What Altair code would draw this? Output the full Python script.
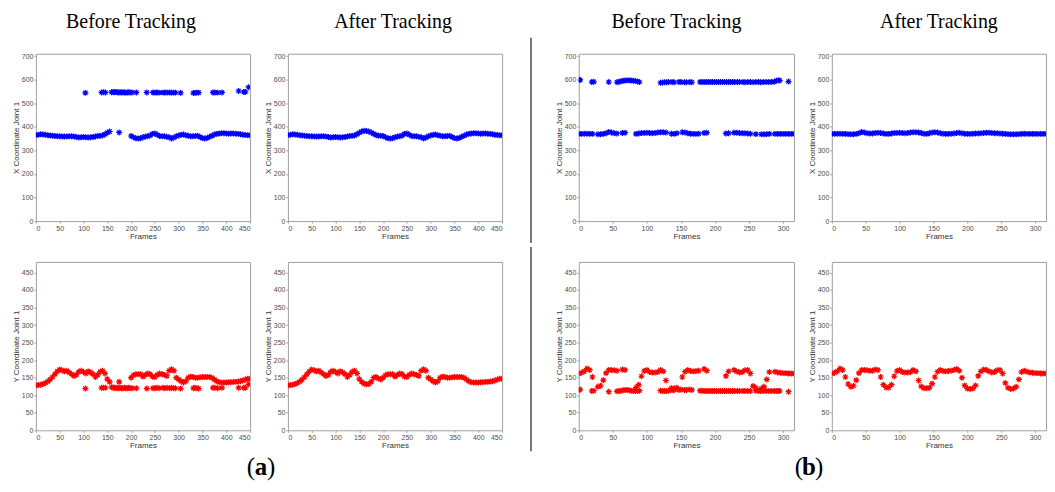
import altair as alt
import pandas as pd

# ---------------- data ----------------
A_FRAMES = list(range(0, 451, 5))
A_X_AFTER = [365, 366, 368, 367, 366, 364, 363, 362, 361, 360,
             360, 359, 359, 359, 360, 360, 359, 357, 355, 356,
             357, 356, 355, 356, 357, 359, 361, 362, 363, 368,
             375, 380, 383, 382, 380, 376, 370, 365, 362, 362,
             361, 356, 351, 350, 351, 356, 359, 360, 363, 370,
             372, 366, 361, 360, 360, 358, 356, 350, 355, 360,
             363, 366, 367, 364, 362, 360, 360, 361, 362, 357,
             352, 350, 353, 358, 362, 367, 370, 372, 373, 373,
             372, 371, 372, 372, 371, 370, 368, 366, 365, 364,
             364]
A_Y_AFTER = [128, 129, 130, 132, 135, 139, 145, 152, 160, 168,
             173, 171, 168, 170, 165, 160, 155, 158, 167, 170,
             166, 162, 168, 165, 160, 152, 158, 167, 170, 162,
             146, 138, 133, 131, 132, 138, 150, 152, 148, 145,
             150, 157, 160, 160, 160, 153, 158, 162, 160, 153,
             152, 158, 162, 160, 158, 155, 170, 174, 170, 150,
             145, 140, 136, 140, 150, 153, 152, 150, 150, 151,
             152, 152, 152, 152, 150, 145, 140, 137, 136, 136,
             136, 137, 137, 138, 138, 139, 140, 142, 145, 147,
             147]
A_MISSING_BEFORE = [160, 165, 170, 180, 185, 190, 195]
A_OUT_FRAMES = [104, 138, 142, 146, 159, 162, 165, 168, 171, 174,
                177, 180, 183, 186, 189, 192, 195, 198, 202, 211,
                233, 246, 250, 254, 259, 267, 271, 276, 281, 285,
                289, 293, 304, 331, 334, 338, 342, 372, 376, 382,
                391, 426, 437, 440, 447]
A_X_OUT = [544, 546, 547, 546, 547, 548, 547, 548, 547, 546,
           547, 546, 547, 546, 545, 546, 547, 546, 546, 546,
           546, 546, 545, 546, 545, 545, 546, 545, 546, 545,
           545, 545, 544, 543, 544, 545, 545, 546, 546, 545,
           546, 552, 548, 548, 568]
A_Y_OUT = [119, 121, 121, 121, 123, 122, 121, 120, 121, 120,
           121, 120, 120, 121, 120, 120, 121, 120, 120, 120,
           119, 120, 120, 121, 120, 121, 120, 121, 120, 121,
           120, 120, 119, 120, 121, 120, 119, 121, 121, 120,
           121, 121, 121, 121, 131]

B_FRAMES = list(range(0, 317, 4))
B_X_AFTER = [370, 370, 371, 371, 370, 370, 369, 368, 368, 370,
             373, 378, 376, 373, 372, 372, 374, 375, 374, 372,
             370, 370, 372, 374, 374, 375, 374, 373, 374, 376,
             377, 377, 376, 374, 371, 370, 373, 376, 377, 376,
             373, 371, 370, 370, 371, 372, 374, 375, 373, 371,
             370, 370, 371, 372, 372, 373, 374, 375, 375, 374,
             373, 373, 372, 371, 370, 369, 368, 368, 368, 369,
             370, 371, 370, 370, 370, 370, 370, 370, 370, 370]
B_Y_AFTER = [162, 164, 168, 176, 172, 152, 132, 124, 127, 143,
             163, 172, 172, 171, 170, 170, 173, 172, 152, 130,
             122, 122, 130, 154, 169, 172, 166, 165, 165, 166,
             172, 168, 142, 125, 120, 120, 121, 133, 152, 167,
             172, 169, 168, 169, 170, 172, 175, 170, 150, 128,
             119, 118, 119, 128, 155, 168, 173, 172, 168, 165,
             166, 171, 172, 162, 135, 121, 118, 119, 124, 145,
             166, 170, 167, 165, 164, 163, 163, 162, 162, 162]
B_MISSING_BEFORE = [24, 60, 72, 76, 80, 132, 148, 180, 192, 196, 200,
                    204, 208, 212, 224, 256, 264, 284]
B_OUT_FRAMES = [0, 2, 19, 22, 44, 56, 59, 62, 65, 68,
                71, 74, 77, 80, 83, 86, 89, 120, 123, 126,
                129, 132, 137, 140, 147, 150, 155, 158, 163, 166,
                178, 181, 184, 187, 190, 193, 196, 199, 202, 205,
                208, 211, 214, 217, 220, 223, 226, 229, 233, 236,
                241, 244, 248, 252, 256, 260, 264, 267, 271, 275,
                279, 283, 287, 290, 293, 295, 308]
B_X_OUT = [600, 599, 590, 591, 590, 589, 591, 593, 595, 596,
           597, 597, 596, 595, 594, 592, 590, 587, 588, 589,
           589, 590, 590, 589, 590, 590, 589, 589, 590, 589,
           590, 590, 590, 590, 590, 590, 590, 590, 590, 590,
           590, 590, 590, 590, 590, 590, 590, 590, 590, 590,
           590, 589, 590, 590, 589, 590, 590, 589, 590, 590,
           590, 590, 591, 595, 597, 596, 592]
B_Y_OUT = [115, 116, 112, 113, 110, 111, 112, 113, 114, 115,
           115, 114, 113, 112, 112, 112, 113, 113, 112, 112,
           112, 113, 114, 115, 115, 116, 115, 115, 116, 115,
           113, 113, 112, 112, 112, 112, 112, 112, 112, 112,
           112, 112, 112, 112, 112, 112, 112, 112, 112, 112,
           112, 112, 112, 112, 126, 113, 112, 112, 112, 112,
           112, 112, 112, 112, 112, 112, 110]

TITLES = ["Before Tracking", "After Tracking"]
X_TICKS_A = list(range(0, 451, 50))
X_TICKS_B = list(range(0, 301, 50))
Y_TICKS_X = list(range(0, 701, 100))
Y_TICKS_Y = list(range(0, 451, 50))

# ---------------- helpers ----------------
STAR = "M-1,0L1,0M0,-1L0,1M-0.7,-0.7L0.7,0.7M-0.7,0.7L0.7,-0.7"
FRAME = "#a0a0a0"


def table(frames, values, missing=None, out_f=None, out_v=None):
    rows = []
    for f, v in zip(frames, values):
        if missing and f in missing:
            continue
        rows.append({"f": f, "v": v})
    if out_f:
        for f, v in zip(out_f, out_v):
            rows.append({"f": f, "v": v})
    return pd.DataFrame(rows)


def panel(df, color, xdom, xticks, ydom, yticks, ytitle, w, h, title=None, dx=0):
    props = dict(width=w, height=h,
                 view=alt.ViewBackground(stroke=FRAME, strokeWidth=1))
    if title:
        props["title"] = alt.TitleParams(
            text=title, font="Liberation Serif", fontSize=20,
            fontWeight="normal", color="#000000", anchor="middle",
            baseline="alphabetic", offset=4, dx=dx)
    return alt.Chart(df).mark_point(
        shape=STAR, filled=False, stroke=color, strokeWidth=1.2,
        size=36, opacity=1, clip=True
    ).encode(
        x=alt.X("f:Q", scale=alt.Scale(domain=xdom, nice=False, zero=False),
                axis=alt.Axis(values=xticks, title="Frames", format="d")),
        y=alt.Y("v:Q", scale=alt.Scale(domain=ydom, nice=False, zero=False),
                axis=alt.Axis(values=yticks, title=ytitle, format="d")),
    ).properties(**props)


BLUE = "#0000ff"
RED = "#ff0000"
W, HT, HB = 215, 168, 169

p1 = panel(table(A_FRAMES, A_X_AFTER, A_MISSING_BEFORE, A_OUT_FRAMES, A_X_OUT),
           BLUE, [0, 450], X_TICKS_A, [0, 710], Y_TICKS_X,
           "X Coordinate Joint 1", W, HT, TITLES[0], dx=-12)
p2 = panel(table(A_FRAMES, A_X_AFTER), BLUE, [0, 450], X_TICKS_A, [0, 710],
           Y_TICKS_X, "X Coordinate Joint 1", W, HT, TITLES[1], dx=-2)
p3 = panel(table(A_FRAMES, A_Y_AFTER, A_MISSING_BEFORE, A_OUT_FRAMES, A_Y_OUT),
           RED, [0, 450], X_TICKS_A, [0, 480], Y_TICKS_Y,
           "Y Coordinate Joint 1", W, HB)
p4 = panel(table(A_FRAMES, A_Y_AFTER), RED, [0, 450], X_TICKS_A, [0, 480],
           Y_TICKS_Y, "Y Coordinate Joint 1", W, HB)

p5 = panel(table(B_FRAMES, B_X_AFTER, B_MISSING_BEFORE, B_OUT_FRAMES, B_X_OUT),
           BLUE, [0, 316], X_TICKS_B, [0, 710], Y_TICKS_X,
           "X Coordinate Joint 1", 216, HT, TITLES[0], dx=-10)
p6 = panel(table(B_FRAMES, B_X_AFTER), BLUE, [0, 316], X_TICKS_B, [0, 710],
           Y_TICKS_X, "X Coordinate Joint 1", W, HT, TITLES[1])
p7 = panel(table(B_FRAMES, B_Y_AFTER, B_MISSING_BEFORE, B_OUT_FRAMES, B_Y_OUT),
           RED, [0, 316], X_TICKS_B, [0, 480], Y_TICKS_Y,
           "Y Coordinate Joint 1", 216, HB)
p8 = panel(table(B_FRAMES, B_Y_AFTER), RED, [0, 316], X_TICKS_B, [0, 480],
           Y_TICKS_Y, "Y Coordinate Joint 1", W, HB)

# divider and sub-figure labels (narrow middle column)
one = pd.DataFrame({"k": [0]})
base = alt.Chart(one)
DIV_X = -9

div_top = base.mark_rule(color="#555555", strokeWidth=1.6).encode(
    x=alt.value(DIV_X), y=alt.value(-16), y2=alt.value(190)
).properties(width=1, height=HT, view=alt.ViewBackground(stroke="transparent"))


def label(letter, cx, y):
    common = dict(font="Liberation Serif", fontSize=25, baseline="alphabetic",
                  color="#000000")
    lp = base.mark_text(text="(", align="right", **common).encode(
        x=alt.value(cx - 6), y=alt.value(y))
    mid = base.mark_text(text=letter, align="center", fontWeight="bold",
                         **common).encode(x=alt.value(cx), y=alt.value(y))
    rp = base.mark_text(text=")", align="left", **common).encode(
        x=alt.value(cx + 6), y=alt.value(y))
    return [lp, mid, rp]


div_bot = alt.layer(
    base.mark_rule(color="#555555", strokeWidth=1.6).encode(
        x=alt.value(DIV_X), y=alt.value(-15), y2=alt.value(190)),
    *label("a", -280, 214), *label("b", 270, 214)
).properties(width=1, height=HB, view=alt.ViewBackground(stroke="transparent"))

chart = alt.concat(
    p1, p2, div_top, p5, p6,
    p3, p4, div_bot, p7, p8,
    columns=5, spacing={"row": 41, "column": 38}, bounds="flush"
).properties(
    padding={"left": 3, "top": 2, "right": 0, "bottom": 0}
).configure_view(stroke="transparent").configure_axis(
    grid=False, domain=False,
    labelFont="Liberation Sans", labelFontSize=7, labelColor="#4d4d4d",
    labelPadding=1, tickSize=2, tickColor=FRAME, tickWidth=1,
    titleFont="Liberation Sans", titleFontSize=8, titleFontWeight="normal",
    titleColor="#333333", titlePadding=1
)

chart.save("out.html", embed_options={"renderer": "svg", "actions": False})
